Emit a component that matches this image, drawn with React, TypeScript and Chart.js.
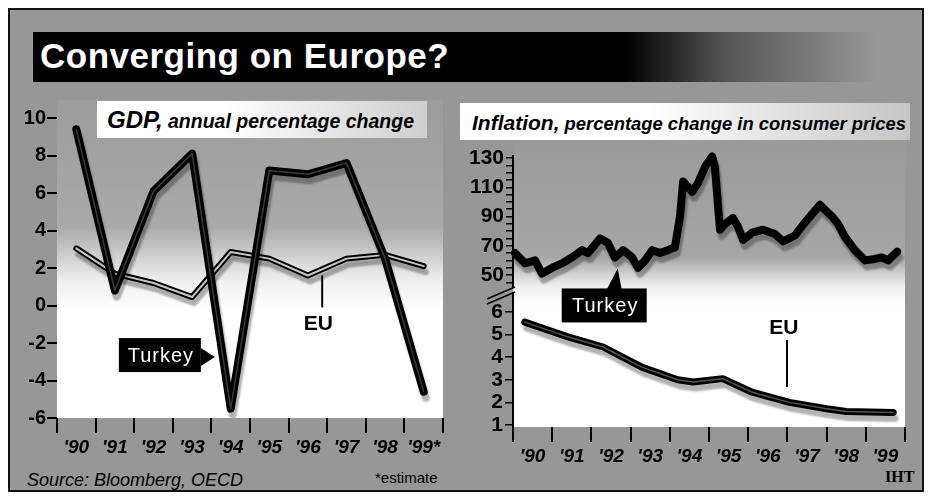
import React, { useEffect, useRef } from "react";
import { Chart, registerables } from "chart.js";

Chart.register(...registerables);

const FONT = '"Liberation Sans", Arial, Helvetica, sans-serif';
Chart.defaults.font.family = FONT;
Chart.defaults.color = "#000";

// ---------- GDP panel data ----------
const gdpYears = ["'90", "'91", "'92", "'93", "'94", "'95", "'96", "'97", "'98", "'99*"];
const turkeyGdp = [9.4, 0.8, 6.1, 8.1, -5.5, 7.2, 7.0, 7.6, 2.5, -4.6];
const euGdp = [3.05, 1.7, 1.2, 0.45, 2.85, 2.5, 1.6, 2.5, 2.7, 2.1];
const gdpTicks = [-6, -4, -2, 0, 2, 4, 6, 8, 10];

// ---------- Inflation panel data ----------
const inflYearTicks = [1990, 1991, 1992, 1993, 1994, 1995, 1996, 1997, 1998, 1999, 2000];
const turkeyInflDates = [
  1990.05, 1990.31, 1990.56, 1990.74, 1991.0, 1991.25, 1991.5, 1991.76, 1991.91, 1992.22,
  1992.42, 1992.6, 1992.81, 1993.04, 1993.19, 1993.37, 1993.55, 1993.75, 1993.95, 1994.13,
  1994.26, 1994.34, 1994.57, 1994.72, 1994.9, 1995.08, 1995.15, 1995.28, 1995.41, 1995.61,
  1995.74, 1995.87, 1996.1, 1996.38, 1996.68, 1996.89, 1997.19, 1997.45, 1997.83, 1998.14,
  1998.29, 1998.47, 1998.72, 1998.98, 1999.23, 1999.41, 1999.57, 1999.8,
];
const turkeyInfl = [
  65, 58, 60, 51, 55, 58, 62, 67, 65, 75,
  72, 62, 67, 62, 55, 60, 67, 65, 67, 69,
  90, 114, 107, 113, 124, 131, 124, 81, 85, 89,
  83, 74, 79, 81, 78, 73, 77, 86, 98, 90,
  85, 76, 67, 60, 61, 62, 60, 66,
];
const euInflDates = [1990.3, 1991.4, 1992.3, 1993.3, 1994.2, 1994.6, 1995.35, 1996.1, 1997.05, 1998.0, 1998.5, 1999.7];
const euInfl = [5.55, 4.9, 4.45, 3.55, 3.0, 2.9, 3.05, 2.45, 2.0, 1.72, 1.6, 1.55];
const turkeyInflMinorTicks = [45, 50, 55, 60, 65, 70, 75, 80, 85, 90, 95, 100, 105, 110, 115, 120, 125, 130];
const turkeyInflLabelTicks = [50, 70, 90, 110, 130];
const euInflTicks = [1, 2, 3, 4, 5, 6];

// annotation anchors (data units)
const gdpEuLabel = { idx: 6.27, val: -1.0 };
const gdpEuLeader = { idx: 6.37, from: 1.6, to: -0.1 };
const gdpTurkeyTip = { idx: 3.59, val: -2.75 };
const inflTurkeyTip = { year: 1992.62, val: 54.5 };
const inflEuLabel = { year: 1996.91, val: 5.29 };
const inflEuLeader = { year: 1996.99, from: 4.76, to: 2.68 };

const BG = "#979797";

const shadowPlugin = {
  id: "lineShadow",
  beforeDatasetDraw(chart: any, args: any) {
    const ds = chart.data.datasets[args.index];
    if (ds.shadow) {
      const ctx = chart.ctx;
      ctx.save();
      ctx.shadowColor = "rgba(0,0,0,0.3)";
      ctx.shadowOffsetX = 2;
      ctx.shadowOffsetY = 6;
      ctx.shadowBlur = 2;
    }
  },
  afterDatasetDraw(chart: any, args: any) {
    const ds = chart.data.datasets[args.index];
    if (ds.shadow) chart.ctx.restore();
  },
};

function drawCallout(ctx: any, bx: number, by: number, w: number, h: number, text: string) {
  ctx.fillStyle = "#000";
  ctx.fillRect(bx, by, w, h);
  ctx.fillStyle = "#fff";
  ctx.font = `20px ${FONT}`;
  ctx.textAlign = "center";
  ctx.textBaseline = "middle";
  try { ctx.letterSpacing = "1px"; } catch (e) {}
  ctx.fillText(text, bx + w / 2 + 1, by + h / 2 + 1);
  try { ctx.letterSpacing = "0px"; } catch (e) {}
}

const gdpAnnot = {
  id: "gdpAnnot",
  afterDatasetsDraw(chart: any) {
    const { ctx, scales } = chart;
    const x = scales.x, y = scales.y;
    ctx.save();
    const lx = x.getPixelForValue(gdpEuLeader.idx);
    ctx.strokeStyle = "#000";
    ctx.lineWidth = 2;
    ctx.beginPath();
    ctx.moveTo(lx, y.getPixelForValue(gdpEuLeader.from));
    ctx.lineTo(lx, y.getPixelForValue(gdpEuLeader.to));
    ctx.stroke();
    ctx.fillStyle = "#000";
    ctx.font = `bold 21px ${FONT}`;
    ctx.textAlign = "center";
    ctx.textBaseline = "middle";
    ctx.fillText("EU", x.getPixelForValue(gdpEuLabel.idx), y.getPixelForValue(gdpEuLabel.val));
    const tx = x.getPixelForValue(gdpTurkeyTip.idx);
    const ty = y.getPixelForValue(gdpTurkeyTip.val);
    ctx.fillStyle = "#000";
    ctx.beginPath();
    ctx.moveTo(tx, ty);
    ctx.lineTo(tx - 14, ty - 9);
    ctx.lineTo(tx - 14, ty + 9);
    ctx.closePath();
    ctx.fill();
    drawCallout(ctx, tx - 14 - 82, ty - 19, 82, 34, "Turkey");
    ctx.restore();
  },
};

const inflTopAnnot = {
  id: "inflTopAnnot",
  afterDatasetsDraw(chart: any) {
    const { ctx, scales } = chart;
    const tx = scales.x.getPixelForValue(inflTurkeyTip.year);
    const ty = scales.y.getPixelForValue(inflTurkeyTip.val);
    ctx.save();
    const boxTop = ty + 20;
    ctx.fillStyle = "#000";
    ctx.beginPath();
    ctx.moveTo(tx + 2, ty);
    ctx.lineTo(tx - 9, boxTop + 1);
    ctx.lineTo(tx + 6, boxTop + 1);
    ctx.closePath();
    ctx.fill();
    drawCallout(ctx, tx - 54, boxTop, 85, 34, "Turkey");
    ctx.restore();
  },
};

const inflBotAnnot = {
  id: "inflBotAnnot",
  afterDatasetsDraw(chart: any) {
    const { ctx, scales, chartArea } = chart;
    const x = scales.x, y = scales.y;
    ctx.save();
    ctx.strokeStyle = "#000";
    ctx.lineWidth = 2;
    const lx = x.getPixelForValue(inflEuLeader.year);
    ctx.beginPath();
    ctx.moveTo(lx, y.getPixelForValue(inflEuLeader.from));
    ctx.lineTo(lx, y.getPixelForValue(inflEuLeader.to));
    ctx.stroke();
    ctx.fillStyle = "#000";
    ctx.font = `bold 21px ${FONT}`;
    ctx.textAlign = "center";
    ctx.textBaseline = "middle";
    ctx.fillText("EU", x.getPixelForValue(inflEuLabel.year), y.getPixelForValue(inflEuLabel.val));
    const l = chartArea.left, t = chartArea.top;
    ctx.lineWidth = 1.5;
    ctx.beginPath();
    ctx.moveTo(l - 26, t + 6);
    ctx.lineTo(l + 2, t - 6);
    ctx.moveTo(l - 26, t + 11);
    ctx.lineTo(l + 2, t - 1);
    ctx.stroke();
    ctx.restore();
  },
};

const baseOptions = {
  animation: false,
  responsive: false,
  maintainAspectRatio: false,
  events: [],
  plugins: { legend: { display: false }, tooltip: { enabled: false }, title: { display: false } },
  elements: {
    point: { radius: 0, hoverRadius: 0 },
    line: { tension: 0, borderJoinStyle: "round", borderCapStyle: "round", fill: false },
  },
};

function makeGdpChart(canvas: HTMLCanvasElement) {
  return new Chart(canvas, {
    type: "line",
    data: {
      labels: gdpYears,
      datasets: [
        { label: "Turkey", data: turkeyGdp, borderColor: "#000", borderWidth: 8, order: 2, shadow: true } as any,
        { label: "Turkey core", data: turkeyGdp, borderColor: "#3a3a3a", borderWidth: 1.5, order: 1 },
        { label: "EU", data: euGdp, borderColor: "#000", borderWidth: 6, order: 4, shadow: true } as any,
        { label: "EU core", data: euGdp, borderColor: "#c8c8c8", borderWidth: 2, order: 3 },
      ],
    },
    options: {
      ...(baseOptions as any),
      layout: { padding: { left: 12, right: 487, top: 100, bottom: 28 } },
      scales: {
        x: {
          type: "category",
          offset: true,
          grid: { offset: true, drawOnChartArea: false, drawTicks: true, tickLength: 15, color: "#000", lineWidth: 2 },
          border: { display: false },
          ticks: { font: { size: 19, weight: "bold", style: "italic" }, color: "#000", padding: 3, maxRotation: 0, autoSkip: false },
          afterFit: (s: any) => { s.height = 50; },
        },
        y: {
          min: -6,
          max: 10.96,
          afterBuildTicks: (s: any) => { s.ticks = gdpTicks.map((v) => ({ value: v })); },
          grid: { drawOnChartArea: false, tickLength: 10, color: "#000", lineWidth: 2 },
          border: { display: false },
          ticks: { font: { size: 20, weight: "bold" }, color: "#000", padding: 1, autoSkip: false },
          afterFit: (s: any) => { s.width = 45; },
        },
      },
    } as any,
    plugins: [shadowPlugin, gdpAnnot],
  });
}

function makeTurkeyInflChart(canvas: HTMLCanvasElement) {
  return new Chart(canvas, {
    type: "line",
    data: {
      datasets: [
        {
          label: "Turkey",
          data: turkeyInflDates.map((t, i) => ({ x: t, y: turkeyInfl[i] })),
          borderColor: "#000",
          borderWidth: 8,
          clip: false,
          shadow: true,
        } as any,
      ],
    },
    options: {
      ...(baseOptions as any),
      layout: { padding: { left: 460, right: 25, top: 156, bottom: 209 } },
      scales: {
        x: { type: "linear", min: 1990, max: 2000, display: false },
        y: {
          min: 41.8,
          max: 131.4,
          afterBuildTicks: (s: any) => { s.ticks = turkeyInflMinorTicks.map((v) => ({ value: v })); },
          grid: { drawOnChartArea: false, tickLength: 7, color: "#000", lineWidth: 1.5 },
          border: { display: true, color: "#000", width: 2 },
          ticks: {
            font: { size: 21, weight: "bold" },
            color: "#000",
            padding: 2,
            autoSkip: false,
            callback: (v: any) => (turkeyInflLabelTicks.includes(v) ? String(v) : ""),
          },
          afterFit: (s: any) => { s.width = 53; },
        },
      },
    } as any,
    plugins: [shadowPlugin, inflTopAnnot],
  });
}

function makeEuInflChart(canvas: HTMLCanvasElement) {
  const pts = euInflDates.map((t, i) => ({ x: t, y: euInfl[i] }));
  return new Chart(canvas, {
    type: "line",
    data: {
      datasets: [
        { label: "EU", data: pts, borderColor: "#000", borderWidth: 7, order: 2, shadow: true } as any,
        { label: "EU core", data: pts, borderColor: "#555", borderWidth: 1.5, order: 1 },
      ],
    },
    options: {
      ...(baseOptions as any),
      layout: { padding: { left: 460, right: 25, top: 293, bottom: 24 } },
      scales: {
        x: {
          type: "linear",
          min: 1990,
          max: 2000,
          afterBuildTicks: (s: any) => { s.ticks = inflYearTicks.map((v) => ({ value: v })); },
          grid: { drawOnChartArea: false, tickLength: 15, color: "#000", lineWidth: 2 },
          border: { display: false },
          ticks: {
            font: { size: 19, weight: "bold", style: "italic" },
            color: "#000",
            padding: 3,
            autoSkip: false,
            maxRotation: 0,
            labelOffset: 19.6,
            callback: (v: any) => (v === 2000 ? "" : "'" + String(v).slice(2)),
          },
          afterFit: (s: any) => { s.height = 45; },
        },
        y: {
          min: 0.91,
          max: 6.84,
          afterBuildTicks: (s: any) => { s.ticks = euInflTicks.map((v) => ({ value: v })); },
          grid: { drawOnChartArea: false, tickLength: 8, color: "#000", lineWidth: 1.5 },
          border: { display: true, color: "#000", width: 2 },
          ticks: { font: { size: 21, weight: "bold" }, color: "#000", padding: 2, autoSkip: false },
          afterFit: (s: any) => { s.width = 53; },
        },
      },
    } as any,
    plugins: [shadowPlugin, inflBotAnnot],
  });
}

const abs = (o: any) => ({ position: "absolute" as const, ...o });

function Txt({ x, baseline, size, style, children }: any) {
  return (
    <div
      style={abs({
        left: x,
        top: baseline - 0.846 * size,
        fontSize: size,
        lineHeight: 1,
        whiteSpace: "nowrap",
        fontFamily: FONT,
        ...style,
      })}
    >
      {children}
    </div>
  );
}

export default function App() {
  const gdpRef = useRef<HTMLCanvasElement>(null);
  const topRef = useRef<HTMLCanvasElement>(null);
  const botRef = useRef<HTMLCanvasElement>(null);

  useEffect(() => {
    const charts = [
      makeGdpChart(gdpRef.current!),
      makeTurkeyInflChart(topRef.current!),
      makeEuInflChart(botRef.current!),
    ];
    return () => charts.forEach((c) => c.destroy());
  }, []);

  const canvasStyle = abs({ left: 0, top: 0, width: 930, height: 496, pointerEvents: "none" });

  return (
    <div style={abs({ left: 0, top: 0, width: 930, height: 496, background: "#fff", overflow: "hidden", fontFamily: FONT })}>
      <div style={abs({ left: 8, top: 8, width: 916, height: 484, boxSizing: "border-box", background: BG, border: "2px solid #111" })} />
      <div style={abs({ left: 33, top: 32, width: 845, height: 50, background: `linear-gradient(to right, #000 0%, #000 70%, #555 82%, ${BG} 100%)` })} />
      <Txt x={40} baseline={68} size={35} style={{ color: "#fff", fontWeight: "bold", letterSpacing: "0.5px" }}>
        Converging on Europe?
      </Txt>
      <div style={abs({ left: 57, top: 100, width: 386, height: 318, background: "linear-gradient(to bottom, rgba(255,255,255,0.05) 0%, rgba(255,255,255,0.18) 40%, rgba(255,255,255,0.85) 57%, #fff 66%, #fff 100%)" })} />
      <div style={abs({ left: 513, top: 140, width: 392, height: 287, background: "linear-gradient(to bottom, rgba(255,255,255,0.03) 0%, rgba(255,255,255,0.15) 41%, rgba(255,255,255,0.85) 51%, #fff 58%, #fff 100%)" })} />
      <div style={abs({ left: 97, top: 101, width: 330, height: 37, background: "linear-gradient(to right, #fff 0%, #fff 38%, rgba(255,255,255,0.5) 100%)" })} />
      <div style={abs({ left: 460, top: 103, width: 450, height: 37, background: "linear-gradient(to right, #fff 0%, #fff 42%, rgba(255,255,255,0.45) 100%)" })} />
      <Txt x={107} baseline={128} size={24} style={{ fontStyle: "italic", fontWeight: "bold", color: "#000" }}>
        <span>GDP,</span>
        <span style={{ fontSize: 19.5 }}> annual percentage change</span>
      </Txt>
      <Txt x={472} baseline={130} size={21} style={{ fontStyle: "italic", fontWeight: "bold", color: "#000" }}>
        <span>Inflation,</span>
        <span style={{ fontSize: 18.4 }}> percentage change in consumer prices</span>
      </Txt>
      <Txt x={27} baseline={486} size={18} style={{ fontStyle: "italic", color: "#000" }}>
        Source: Bloomberg, OECD
      </Txt>
      <Txt x={375} baseline={483} size={15} style={{ color: "#000" }}>
        *estimate
      </Txt>
      <Txt x={885} baseline={483} size={16} style={{ color: "#000", fontWeight: "bold", fontFamily: '"Liberation Serif", "DejaVu Serif", serif' }}>
        IHT
      </Txt>
      <canvas ref={gdpRef} width={930} height={496} style={canvasStyle} />
      <canvas ref={topRef} width={930} height={496} style={canvasStyle} />
      <canvas ref={botRef} width={930} height={496} style={canvasStyle} />
    </div>
  );
}
